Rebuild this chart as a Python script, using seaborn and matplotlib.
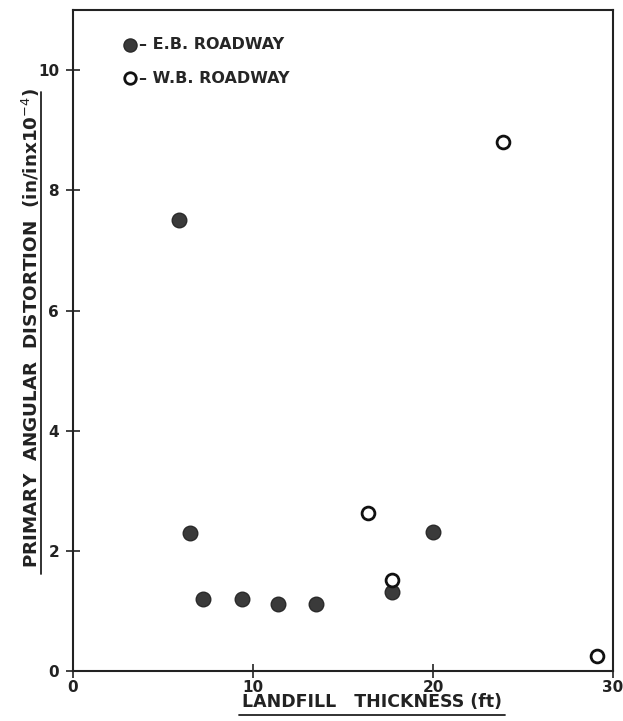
import matplotlib
matplotlib.use("Agg")
import matplotlib.pyplot as plt
from matplotlib.lines import Line2D
import seaborn as sns
import pandas as pd

# E.B. roadway (filled markers)
eb_thickness = [5.9, 6.5, 7.2, 9.4, 11.4, 13.5, 17.7, 20.0]
eb_distortion = [7.5, 2.3, 1.2, 1.2, 1.12, 1.12, 1.32, 2.32]

# W.B. roadway (open markers)
wb_thickness = [16.4, 17.7, 23.9, 29.1]
wb_distortion = [2.63, 1.52, 8.8, 0.25]

x_ticks = [0, 10, 20, 30]
y_ticks = [0, 2, 4, 6, 8, 10]

sns.set_theme(style="white")
plt.rcParams["font.family"] = ["DejaVu Sans"]

eb = pd.DataFrame({"thickness": eb_thickness, "distortion": eb_distortion})
wb = pd.DataFrame({"thickness": wb_thickness, "distortion": wb_distortion})

fig = plt.figure(figsize=(6.23, 7.21), dpi=100)
ax = fig.add_axes([0.117, 0.069, 0.867, 0.917])

sns.scatterplot(data=eb, x="thickness", y="distortion", ax=ax, s=110,
                color="#3a3a3a", edgecolor="#2a2a2a", linewidth=1,
                label="\u2013 E.B. ROADWAY", zorder=3)
sns.scatterplot(data=wb, x="thickness", y="distortion", ax=ax, s=85,
                facecolor="white", edgecolor="#111111", linewidth=2,
                label="\u2013 W.B. ROADWAY", zorder=4)

ax.set_xlim(0, 30)
ax.set_ylim(0, 11)
ax.set_xticks(x_ticks)
ax.set_yticks(y_ticks)
ax.tick_params(direction="inout", length=10, width=1.2, colors="#222222",
               labelsize=11, bottom=True, left=True)
ax.tick_params(axis="x", pad=1)
ax.tick_params(axis="y", pad=5)
for lbl in ax.get_xticklabels() + ax.get_yticklabels():
    lbl.set_fontweight("bold")
for sp in ax.spines.values():
    sp.set_color("#222222")
    sp.set_linewidth(1.5)

ax.set_xlabel("")
ax.set_ylabel("")

leg = ax.legend(loc="upper left", frameon=False, fontsize=11.5,
                handletextpad=0.1, labelspacing=1.15, borderaxespad=1.3,
                markerscale=0.9, handlelength=1.0, bbox_to_anchor=(0.04, 1.0))
for t in leg.get_texts():
    t.set_fontweight("bold")

# axis titles, underlined as in the original drawing
xt = fig.text(0.597, 0.026, "LANDFILL   THICKNESS (ft)", ha="center", va="center",
              fontsize=12.5, fontweight="bold", color="#222222")
yt = fig.text(0.049, 0.545, "PRIMARY  ANGULAR  DISTORTION  (in/inx10$^{-4}$)",
              ha="center", va="center", rotation=90, fontsize=13.2,
              fontweight="bold", color="#222222")

fig.canvas.draw()
inv = fig.transFigure.inverted()
bx = xt.get_window_extent().transformed(inv)
fig.add_artist(Line2D([bx.x0 - 0.005, bx.x1 + 0.005], [0.008, 0.008],
                      color="#222222", lw=1.3))
by = yt.get_window_extent().transformed(inv)
fig.add_artist(Line2D([0.066, 0.066], [by.y0 - 0.008, by.y1 - 0.005],
                      color="#222222", lw=1.3))

fig.savefig("out.png", dpi=100)
